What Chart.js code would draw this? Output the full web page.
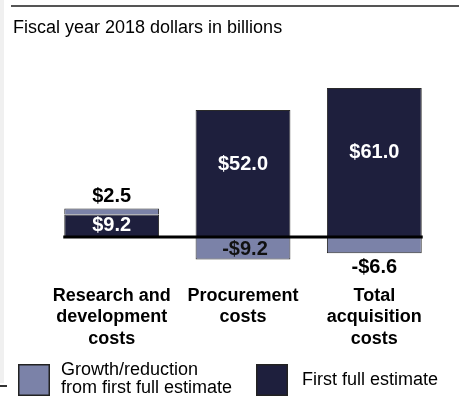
<!DOCTYPE html>
<html>
<head>
<meta charset="utf-8">
<script src="https://cdn.jsdelivr.net/npm/chart.js@4/dist/chart.umd.min.js"></script>
<style>
html,body{margin:0;padding:0;background:#fff;}
#wrap{position:relative;width:459px;height:406px;}
</style>
</head>
<body>
<div id="wrap"><canvas id="c" width="459" height="406"></canvas></div>
<script>
const titleText = "Fiscal year 2018 dollars in billions";
const categories = [["Research and","development","costs"],["Procurement","costs"],["Total","acquisition","costs"]];
const firstEstimate = [9.2, 52.0, 61.0];
const growth = [2.5, -9.2, -6.6];
const firstLabels = ["$9.2", "$52.0", "$61.0"];
const growthLabels = ["$2.5", "-$9.2", "-$6.6"];
const legendGrowth = ["Growth/reduction", "from first full estimate"];
const legendFirst = ["First full estimate"];

const DARK = '#1e1f3d';
const LIGHT = '#7b82a8';
const FONT = '"Liberation Sans", Arial, sans-serif';

const decor = {
  id: 'decor',
  beforeDraw(chart) {
    const ctx = chart.ctx;
    ctx.save();
    ctx.fillStyle = '#f0f0f0';
    ctx.fillRect(0, 0, 4, 383);
    ctx.fillStyle = '#555';
    ctx.fillRect(11, 5, 448, 2);
    ctx.fillStyle = '#333';
    ctx.fillRect(0, 385, 7, 2);
    ctx.fillStyle = '#000';
    ctx.font = '18px ' + FONT;
    ctx.textBaseline = 'middle';
    ctx.textAlign = 'left';
    ctx.fillText(titleText, 13, 28);
    ctx.restore();
  },
  afterDatasetsDraw(chart) {
    const ctx = chart.ctx;
    const y = chart.scales.y;
    const m0 = chart.getDatasetMeta(0).data;
    const m1 = chart.getDatasetMeta(1).data;
    const zero = y.getPixelForValue(0);
    ctx.save();
    const first = m0[0], last = m0[m0.length - 1];
    ctx.strokeStyle = '#000';
    ctx.lineWidth = 3;
    ctx.beginPath();
    ctx.moveTo(first.x - first.width / 2 - 1, zero);
    ctx.lineTo(last.x + last.width / 2 + 1, zero);
    ctx.stroke();
    ctx.font = 'bold 20px ' + FONT;
    ctx.textAlign = 'center';
    ctx.textBaseline = 'middle';
    firstEstimate.forEach((v, i) => {
      const bar = m0[i];
      const h = bar.base - bar.y;
      const frac = h > 60 ? 0.57 : 0.5;
      ctx.fillStyle = '#fff';
      ctx.fillText(firstLabels[i], bar.x, bar.base - h * frac);
    });
    growth.forEach((v, i) => {
      const bar = m1[i];
      const top = Math.min(bar.y, bar.base), bot = Math.max(bar.y, bar.base);
      const h = bot - top;
      ctx.fillStyle = '#000';
      if (v > 0) {
        ctx.fillText(growthLabels[i], bar.x, top - 12);
      } else if (h > 20) {
        ctx.fillStyle = '#111';
        ctx.fillText(growthLabels[i], bar.x + 2, (top + bot) / 2 + 1);
      } else {
        ctx.fillText(growthLabels[i], bar.x, bot + 14);
      }
    });
    ctx.restore();
  },
  afterDraw(chart) {
    const ctx = chart.ctx;
    ctx.save();
    const drawBox = (x, y, col) => {
      ctx.fillStyle = col;
      ctx.fillRect(x, y, 32, 32);
      ctx.strokeStyle = '#222';
      ctx.lineWidth = 1.5;
      ctx.strokeRect(x + 0.75, y + 0.75, 30.5, 30.5);
    };
    drawBox(18, 364, LIGHT);
    drawBox(256, 364, DARK);
    ctx.fillStyle = '#000';
    ctx.font = '18px ' + FONT;
    ctx.textAlign = 'left';
    ctx.textBaseline = 'middle';
    legendGrowth.forEach((t, i) => ctx.fillText(t, 61, 370 + i * 18.5));
    ctx.fillText(legendFirst[0], 302, 380);
    ctx.restore();
  }
};

new Chart(document.getElementById('c'), {
  type: 'bar',
  data: {
    labels: categories,
    datasets: [
      { label: 'First full estimate', data: firstEstimate, backgroundColor: DARK, borderColor: '#2a2a2a', borderWidth: 1, stack: 's' },
      { label: 'Growth/reduction from first full estimate', data: growth, backgroundColor: LIGHT, borderColor: '#2a2a2a', borderWidth: 1, stack: 's' }
    ]
  },
  options: {
    responsive: false,
    animation: false,
    devicePixelRatio: 1,
    layout: { padding: { left: 46, right: 19, top: 66, bottom: 55 } },
    plugins: { legend: { display: false }, title: { display: false }, tooltip: { enabled: false } },
    datasets: { bar: { categoryPercentage: 1, barPercentage: 0.722 } },
    scales: {
      x: {
        stacked: true,
        grid: { display: false, drawTicks: false },
        border: { display: false },
        ticks: { color: '#000', padding: 4, maxRotation: 0, autoSkip: false, font: { family: FONT, size: 18, weight: 'bold', lineHeight: 1.2 } },
        afterFit(s) { s.height = 70; }
      },
      y: {
        stacked: true,
        display: false,
        min: -18,
        max: 70
      }
    }
  },
  plugins: [decor]
});
</script>
</body>
</html>
